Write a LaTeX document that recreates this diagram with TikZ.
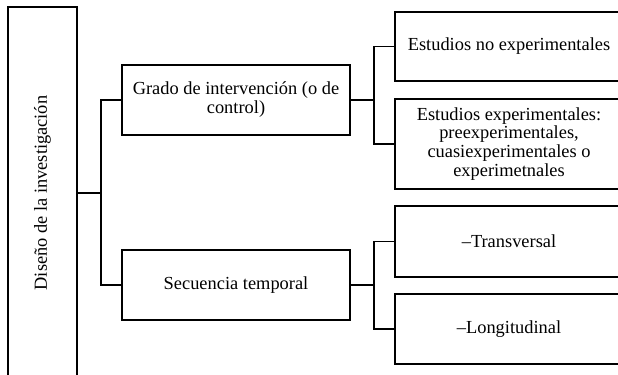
\documentclass[tikz,border=0pt]{standalone}
\usepackage{fontspec}
\setmainfont{Liberation Serif}
\usetikzlibrary{positioning}

\begin{document}
\begin{tikzpicture}[x=0.75pt,y=-0.75pt,
        caja/.style={draw,line width=1.4pt,align=center,inner sep=2pt,
            font=\fontsize{13.8}{14.2}\selectfont},
        rama/.style={line width=1.4pt}]
        \useasboundingbox (0,0) rectangle (618,375);
        \clip (0,0) rectangle (618,375);

        % raiz
        \node[caja,minimum width=51.75pt,minimum height=279pt] (diseno) at (42.5,193)
            {\rotatebox{90}{Diseño de la investigación}};

        % segundo nivel
        \node[caja,minimum width=171pt,minimum height=52.5pt] (grado) at (236,100)
            {Grado de intervención (o de\\control)};
        \node[caja,minimum width=171pt,minimum height=52.5pt] (secuencia) at (236,285)
            {Secuencia temporal};

        % tercer nivel
        \foreach \nombre/\y/\alto/\texto in {
            noexp/46.5/51.75pt/{Estudios no experimentales},
            exp/144/67.5pt/{Estudios experimentales:\\preexperimentales,\\cuasiexperimentales o\\experimetnales},
            trans/241.5/53.25pt/{–Transversal},
            longi/329/52.5pt/{–Longitudinal}}
                \node[caja,minimum width=171pt,minimum height=\alto] (\nombre) at (509,\y) {\texto};

        \draw[rama] (diseno.east) -- ++(23,0) coordinate (c1) |- (grado.west);
        \draw[rama] (c1) |- (secuencia.west);
        \draw[rama] (grado.east) -- ++(23,0) coordinate (c2) |- (noexp.west);
        \draw[rama] (c2) |- (exp.west);
        \draw[rama] (secuencia.east) -- ++(23,0) coordinate (c3) |- (trans.west);
        \draw[rama] (c3) |- (longi.west);
\end{tikzpicture}
\end{document}
